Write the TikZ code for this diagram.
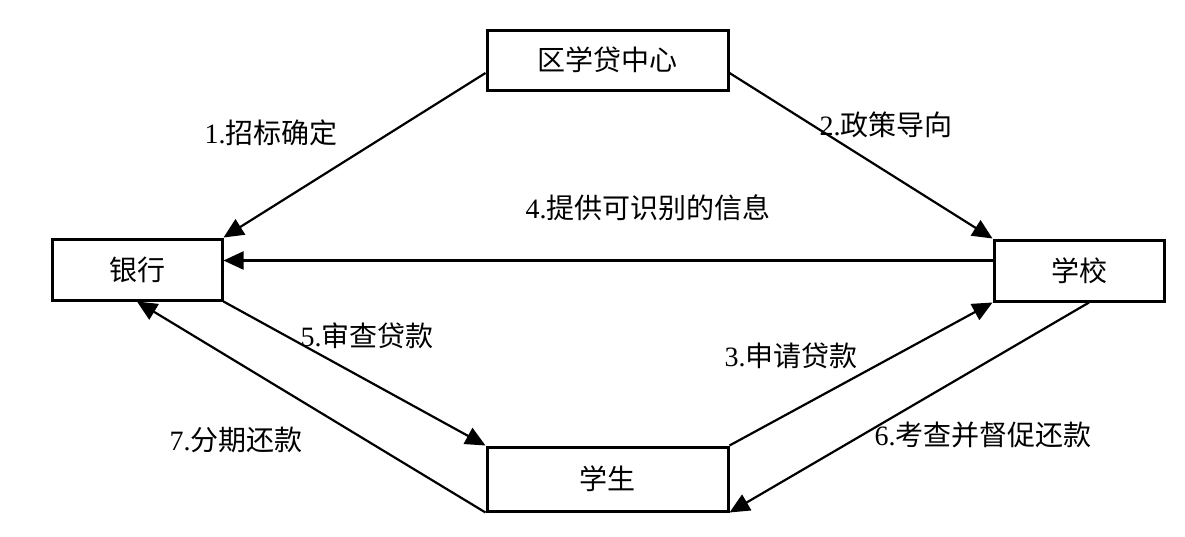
\documentclass[tikz,border=0pt]{standalone}
\usepackage{fontspec}
\setmainfont{Liberation Serif}
\newfontfamily\cjk{Noto Sans CJK SC}
\usetikzlibrary{arrows.meta}
\begin{document}
\begin{tikzpicture}[x=1pt,y=-1pt,
  box/.style={draw,line width=3pt,inner sep=0pt,font=\fontsize{28}{31}\selectfont\cjk},
  conn/.style={line width=2.2pt,-{Triangle[length=20pt,width=18pt]}},
  lbl/.style={inner sep=0pt,font=\fontsize{28}{31}\selectfont}]
\useasboundingbox[fill=white] (0,0) rectangle (1185,536);
\node[box,minimum width=241pt,minimum height=60pt] (top) at (607.5,60) {区学贷中心};
\node[box,minimum width=170pt,minimum height=61pt] (bank) at (137,269.5) {银行};
\node[box,minimum width=170pt,minimum height=61pt] (school) at (1079,270.5) {学校};
\node[box,minimum width=241pt,minimum height=64pt] (student) at (607.5,479) {学生};

\coordinate (s1) at ([yshift=-13pt]top.west);
\coordinate (s2) at ([yshift=-13pt]top.east);
\coordinate (s4) at ([yshift=10pt]school.west);
\coordinate (s6) at ([xshift=10pt]school.south);

\draw[conn] (s1) -- (bank.north east);
\draw[conn] (s2) -- (school.north west);
\draw[conn] (s4) -- (s4 -| bank.east);
\draw[conn] (bank.south east) -- (student.north west);
\draw[conn] (student.north east) -- (school.south west);
\draw[conn] (s6) -- (student.south east);
\draw[conn] (student.south west) -- (bank.south);

\node[lbl] (l1) at (271,133) {1.{\cjk 招标确定}};
\node[lbl] (l2) at (886,125) {2.{\cjk 政策导向}};
\node[lbl] (l4) at (648,208) {4.{\cjk 提供可识别的信息}};
\node[lbl] (l5) at (367,336) {5.{\cjk 审查贷款}};
\node[lbl] (l3) at (791,356) {3.{\cjk 申请贷款}};
\node[lbl] (l7) at (236,440) {7.{\cjk 分期还款}};
\node[lbl] (l6) at (983,435) {6.{\cjk 考查并督促还款}};
\end{tikzpicture}
\end{document}
